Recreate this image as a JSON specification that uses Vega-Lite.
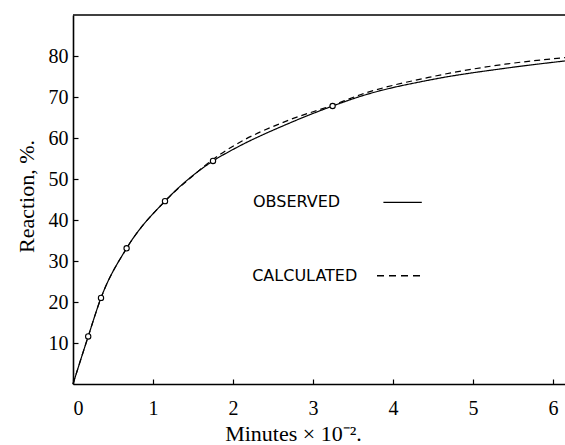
{
  "$schema": "https://vega.github.io/schema/vega-lite/v6.json",
  "autosize": {"type": "none"},
  "width": 492,
  "height": 369,
  "padding": {"left": 73, "top": 15, "right": 0, "bottom": 61},
  "background": "white",
  "config": {
    "view": {"stroke": null},
    "axis": {
      "grid": false,
      "domainColor": "black",
      "domainWidth": 1.6,
      "tickColor": "black",
      "tickWidth": 1.2,
      "labelFont": "Liberation Serif",
      "labelFontSize": 20,
      "labelColor": "black",
      "titleFont": "Liberation Serif",
      "titleFontSize": 22,
      "titleFontWeight": "normal",
      "titleColor": "black"
    }
  },
  "datasets": {
    "curves": [
      {"series": "Observed", "t": 0, "r": 0},
      {"series": "Observed", "t": 0.19, "r": 11.6},
      {"series": "Observed", "t": 0.35, "r": 21.0},
      {"series": "Observed", "t": 0.67, "r": 33.1},
      {"series": "Observed", "t": 1.15, "r": 44.6},
      {"series": "Observed", "t": 1.75, "r": 54.4},
      {"series": "Observed", "t": 2.0, "r": 57.2},
      {"series": "Observed", "t": 2.69, "r": 63.5},
      {"series": "Observed", "t": 3.245, "r": 67.8},
      {"series": "Observed", "t": 3.6, "r": 70.2},
      {"series": "Observed", "t": 4.5, "r": 74.3},
      {"series": "Observed", "t": 5.4, "r": 77.0},
      {"series": "Observed", "t": 6.15, "r": 78.8},
      {"series": "Calculated", "t": 0, "r": 0},
      {"series": "Calculated", "t": 0.19, "r": 11.6},
      {"series": "Calculated", "t": 0.35, "r": 21.0},
      {"series": "Calculated", "t": 0.67, "r": 33.1},
      {"series": "Calculated", "t": 1.15, "r": 44.6},
      {"series": "Calculated", "t": 1.5, "r": 50.8},
      {"series": "Calculated", "t": 1.75, "r": 54.8},
      {"series": "Calculated", "t": 2.0, "r": 58.0},
      {"series": "Calculated", "t": 2.69, "r": 64.3},
      {"series": "Calculated", "t": 3.245, "r": 68.0},
      {"series": "Calculated", "t": 3.6, "r": 70.6},
      {"series": "Calculated", "t": 4.5, "r": 75.0},
      {"series": "Calculated", "t": 5.4, "r": 78.0},
      {"series": "Calculated", "t": 6.15, "r": 79.6}
    ],
    "points": [
      {"t": 0.19, "r": 11.6},
      {"t": 0.35, "r": 21.0},
      {"t": 0.67, "r": 33.1},
      {"t": 1.15, "r": 44.6},
      {"t": 1.75, "r": 54.4},
      {"t": 3.245, "r": 67.8}
    ],
    "key": [
      {"label": "OBSERVED", "series": "Observed"},
      {"label": "CALCULATED", "series": "Calculated"}
    ]
  },
  "layer": [
    {
      "data": {"name": "curves"},
      "mark": {"type": "line", "interpolate": "monotone", "color": "black", "strokeWidth": 1.2},
      "encoding": {
        "x": {
          "field": "t", "type": "quantitative",
          "scale": {"domain": [0, 6.15], "nice": false, "zero": false},
          "axis": {
            "values": [0, 1, 2, 3, 4, 5, 6],
            "format": "d",
            "tickSize": -5,
            "labelPadding": 19,
            "title": "Minutes × 10⁻².",
            "titleX": 220,
            "titleY": 49,
            "titleAlign": "center",
            "titleBaseline": "middle"
          }
        },
        "y": {
          "field": "r", "type": "quantitative",
          "scale": {"domain": [0, 90], "nice": false},
          "axis": {
            "values": [10, 20, 30, 40, 50, 60, 70, 80],
            "tickSize": -5,
            "labelPadding": 10,
            "title": "Reaction, %.",
            "titleX": -47,
            "titleY": 181,
            "titleAlign": "center",
            "titleBaseline": "middle",
            "titleAngle": -90
          }
        },
        "strokeDash": {
          "field": "series", "type": "nominal",
          "scale": {"domain": ["Observed", "Calculated"], "range": [[1, 0], [6, 4]]},
          "legend": null
        }
      }
    },
    {
      "data": {"name": "points"},
      "mark": {"type": "point", "shape": "circle", "size": 28, "filled": true, "fill": "white", "stroke": "black", "strokeWidth": 1.1, "opacity": 1},
      "encoding": {
        "x": {"field": "t", "type": "quantitative"},
        "y": {"field": "r", "type": "quantitative"}
      }
    },
    {
      "data": {"values": [{}]},
      "mark": {"type": "rule", "color": "black", "strokeWidth": 1.6},
      "encoding": {"y": {"datum": 90}}
    },
    {
      "data": {"name": "key"},
      "transform": [{"filter": "datum.series === 'Observed'"}],
      "layer": [
        {
          "mark": {"type": "text", "align": "left", "baseline": "middle", "font": "DejaVu Sans", "fontSize": 16, "color": "black"},
          "encoding": {"x": {"datum": 2.25}, "y": {"datum": 44.3}, "text": {"field": "label"}}
        },
        {
          "mark": {"type": "rule", "color": "black", "strokeWidth": 1.2},
          "encoding": {"x": {"datum": 3.88}, "x2": {"datum": 4.36}, "y": {"datum": 44.3}}
        }
      ]
    },
    {
      "data": {"name": "key"},
      "transform": [{"filter": "datum.series === 'Calculated'"}],
      "layer": [
        {
          "mark": {"type": "text", "align": "left", "baseline": "middle", "font": "DejaVu Sans", "fontSize": 16, "color": "black"},
          "encoding": {"x": {"datum": 2.24}, "y": {"datum": 26.4}, "text": {"field": "label"}}
        },
        {
          "mark": {"type": "rule", "color": "black", "strokeWidth": 1.4, "strokeDash": [7, 5]},
          "encoding": {"x": {"datum": 3.8}, "x2": {"datum": 4.36}, "y": {"datum": 26.4}}
        }
      ]
    }
  ]
}
